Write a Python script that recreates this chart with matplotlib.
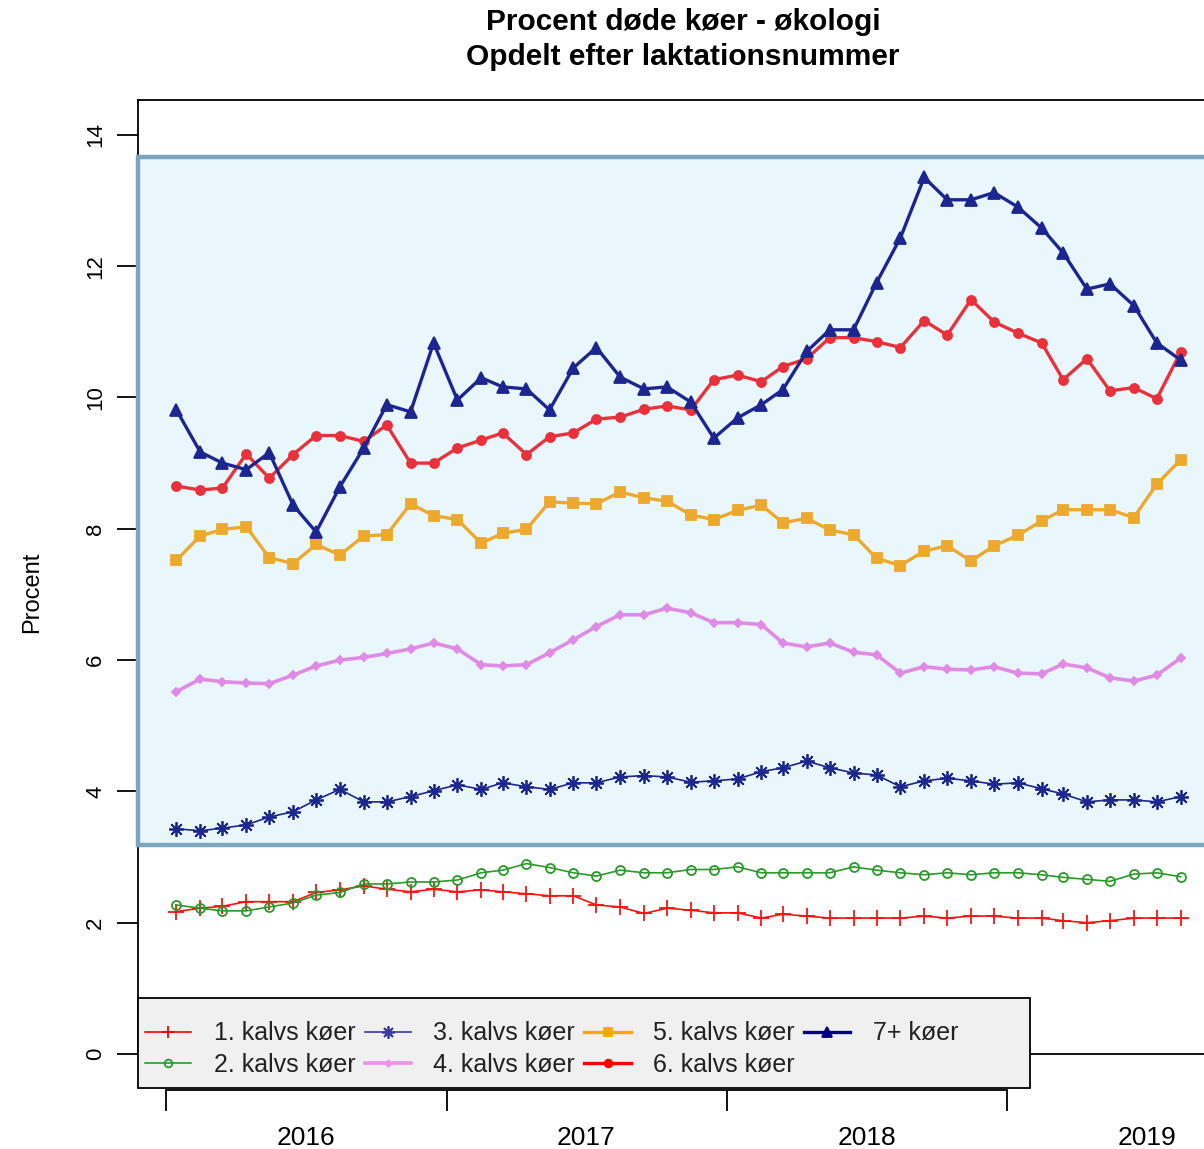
import datetime as dt

import matplotlib
matplotlib.use("Agg")
import matplotlib.dates as mdates
import matplotlib.pyplot as plt
import pandas as pd
from matplotlib.lines import Line2D
from matplotlib.patches import Rectangle

plt.rcParams["font.family"] = ["Liberation Sans", "DejaVu Sans"]

# monthly values, Jan 2016 - Aug 2019 (points drawn mid-month)
months = pd.date_range("2016-01-01", periods=44, freq="MS") + pd.Timedelta(days=14)

kalv1 = [2.17, 2.22, 2.25, 2.32, 2.32, 2.32, 2.46, 2.50, 2.56, 2.51, 2.47, 2.51,
         2.47, 2.50, 2.47, 2.44, 2.41, 2.41, 2.27, 2.24, 2.14, 2.22, 2.19, 2.15,
         2.15, 2.07, 2.13, 2.10, 2.07, 2.07, 2.07, 2.07, 2.10, 2.07, 2.10, 2.10,
         2.07, 2.07, 2.03, 2.00, 2.03, 2.07, 2.07, 2.07]
kalv2 = [2.27, 2.22, 2.18, 2.18, 2.24, 2.30, 2.42, 2.46, 2.59, 2.59, 2.62, 2.62,
         2.65, 2.76, 2.80, 2.90, 2.84, 2.76, 2.71, 2.80, 2.76, 2.76, 2.81, 2.81,
         2.85, 2.76, 2.76, 2.76, 2.76, 2.85, 2.80, 2.76, 2.73, 2.76, 2.73, 2.76,
         2.76, 2.73, 2.69, 2.66, 2.63, 2.74, 2.76, 2.70]
kalv3 = [3.43, 3.40, 3.44, 3.49, 3.61, 3.69, 3.87, 4.03, 3.84, 3.84, 3.92, 4.01,
         4.10, 4.03, 4.13, 4.07, 4.03, 4.13, 4.13, 4.22, 4.24, 4.22, 4.14, 4.16,
         4.19, 4.30, 4.36, 4.46, 4.36, 4.28, 4.25, 4.07, 4.16, 4.20, 4.16, 4.11,
         4.13, 4.04, 3.96, 3.84, 3.87, 3.87, 3.84, 3.92]
kalv4 = [5.52, 5.71, 5.67, 5.65, 5.64, 5.77, 5.91, 6.00, 6.04, 6.10, 6.17, 6.26,
         6.17, 5.93, 5.91, 5.93, 6.11, 6.31, 6.51, 6.69, 6.69, 6.79, 6.72, 6.57,
         6.57, 6.54, 6.26, 6.20, 6.26, 6.12, 6.08, 5.80, 5.90, 5.86, 5.85, 5.90,
         5.80, 5.79, 5.94, 5.88, 5.73, 5.68, 5.77, 6.03]
kalv5 = [7.52, 7.89, 7.99, 8.03, 7.56, 7.47, 7.76, 7.60, 7.89, 7.91, 8.38, 8.20,
         8.14, 7.78, 7.93, 7.99, 8.41, 8.39, 8.38, 8.56, 8.47, 8.42, 8.21, 8.14,
         8.28, 8.36, 8.09, 8.16, 7.98, 7.91, 7.55, 7.44, 7.66, 7.74, 7.51, 7.74,
         7.90, 8.12, 8.29, 8.29, 8.29, 8.17, 8.68, 9.05]
kalv6 = [8.65, 8.59, 8.62, 9.14, 8.77, 9.13, 9.42, 9.42, 9.33, 9.58, 9.00, 9.00,
         9.23, 9.35, 9.46, 9.13, 9.40, 9.46, 9.67, 9.70, 9.82, 9.87, 9.81, 10.27,
         10.34, 10.24, 10.47, 10.59, 10.91, 10.91, 10.85, 10.76, 11.17, 10.95, 11.49, 11.15,
         10.98, 10.83, 10.27, 10.59, 10.10, 10.15, 9.98, 10.69]
kalv7 = [9.81, 9.17, 9.00, 8.90, 9.16, 8.36, 7.95, 8.64, 9.23, 9.89, 9.78, 10.83,
         9.96, 10.30, 10.16, 10.13, 9.81, 10.45, 10.76, 10.31, 10.13, 10.16, 9.93, 9.38,
         9.69, 9.89, 10.12, 10.70, 11.03, 11.03, 11.75, 12.43, 13.35, 13.01, 13.01, 13.12,
         12.90, 12.58, 12.20, 11.65, 11.73, 11.40, 10.83, 10.57]

labels = ["1. kalvs køer", "2. kalvs køer", "3. kalvs køer", "4. kalvs køer",
          "5. kalvs køer", "6. kalvs køer", "7+ køer"]
years = [2016, 2017, 2018, 2019]
yticks = [0, 2, 4, 6, 8, 10, 12, 14]

# (plot colour, legend colour, marker, markersize, linewidth, filled)
styles = [
    ("#ff1010", "#ff0000", "+", 11, 1.2, True),
    ("#2a9a2a", "#2a9a2a", "o", 6.5, 1.2, False),
    ("#1c268c", "#3a3aa0", (8, 2, 0), 10.5, 1.2, True),
    ("#e08ae8", "#ee90ee", "D", 3.8, 2.6, True),
    ("#eda92e", "#ffa500", "s", 6.5, 2.4, True),
    ("#e8313a", "#ff0000", "o", 6.5, 2.4, True),
    ("#1d2690", "#000080", "^", 8, 2.4, True),
]
series = [kalv1, kalv2, kalv3, kalv4, kalv5, kalv6, kalv7]

fig = plt.figure(figsize=(12.04, 11.49), dpi=100)
ax = fig.add_axes([138 / 1204, 1 - 1054 / 1149, 1081 / 1204, 954 / 1149])

# shaded highlight band (drawn over the left spine, under the lines)
ax.add_patch(Rectangle((0, 3.18), 1.2, 10.48, transform=ax.get_yaxis_transform(),
                       facecolor="#e9f6fc", edgecolor="#7ba6bf", linewidth=3.2,
                       zorder=2.6, clip_on=False))

for vals, (col, _, mk, ms, lw, filled) in zip(series, styles):
    ax.plot(months, vals, color=col, lw=lw, marker=mk, ms=ms,
            mfc=col if filled else "none", mec=col, mew=1.3, zorder=3)

pad = pd.Timedelta(days=50)
ax.set_xlim(months[0] - pad, months[-1] + pad)
ax.set_ylim(0, 14.53)

for side in ["top", "left", "right", "bottom"]:
    ax.spines[side].set_linewidth(1.3)
ax.set_xticks([])
ax.set_yticks(yticks)
ax.tick_params(axis="y", length=15, width=1.3, labelsize=16, labelrotation=90, pad=8)
for t in ax.get_yticklabels():
    t.set_va("center")

# x axis drawn a little below the plot box, as in the original
sec = ax.secondary_xaxis(-0.038)
ticks = [dt.datetime(y, 1, 1) for y in years]
sec.set_xticks(ticks)
sec.set_xticklabels([])
sec.set_xticks([dt.datetime(y, 7, 2) for y in years], minor=True)
sec.set_xticklabels([str(y) for y in years], minor=True, fontsize=19)
sec.tick_params(which="major", length=15, width=1.3)
sec.tick_params(which="minor", length=0, pad=26)
sec.spines["bottom"].set_bounds(mdates.date2num(ticks[0]), mdates.date2num(ticks[-1]))
sec.spines["bottom"].set_linewidth(1.3)

# legend box
ax.add_patch(Rectangle((0, -0.0356), 0.8252, 0.0943, transform=ax.transAxes,
                       facecolor="#f0f0f0", edgecolor="black", linewidth=1.3,
                       zorder=5, clip_on=False))
handles = [Line2D([], [], color=lc, lw=lw, marker=mk, ms=ms * 0.85,
                  mfc=lc if filled else "none", mec=lc, mew=1.3)
           for (_, lc, mk, ms, lw, filled) in styles]
leg = ax.legend(handles, labels, ncol=4, loc="center left",
                bbox_to_anchor=(0.0065, 0.0052), frameon=False, fontsize=18,
                handlelength=1.85, handletextpad=0.9, columnspacing=0.37,
                labelspacing=0.3, borderpad=0, borderaxespad=0, numpoints=1)
leg.set_zorder(6)
for txt in leg.get_texts():
    txt.set_color("#222222")

fig.text(32 / 1204, 1 - 592 / 1149, "Procent", rotation=90, ha="center",
         va="center", fontsize=17)
fig.text(683 / 1204, 1 - 22 / 1149, "Procent døde køer - økologi", ha="center",
         va="center", fontsize=21.5, fontweight="bold")
fig.text(683 / 1204, 1 - 57 / 1149, "Opdelt efter laktationsnummer", ha="center",
         va="center", fontsize=21.5, fontweight="bold")

fig.savefig("out.png", dpi=100)
